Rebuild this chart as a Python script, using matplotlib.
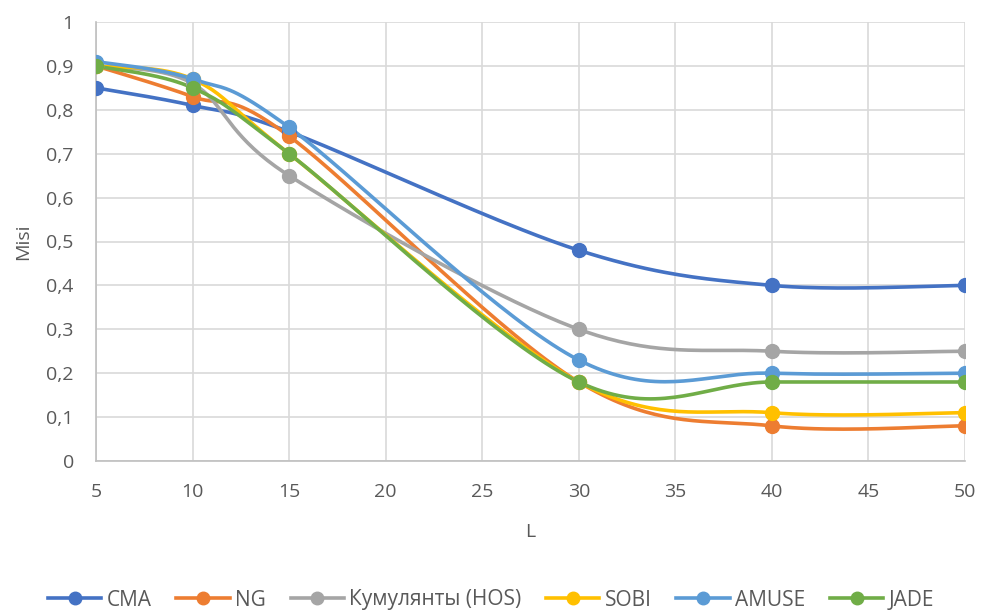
import numpy as np
import matplotlib
matplotlib.use("Agg")
import matplotlib.pyplot as plt
from matplotlib.ticker import FuncFormatter

L = [5, 10, 15, 30, 40, 50]
series_names = ["CMA", "NG", "Кумулянты (HOS)", "SOBI", "AMUSE", "JADE"]
cma = [0.85, 0.81, 0.75, 0.48, 0.40, 0.40]
ng = [0.90, 0.83, 0.74, 0.18, 0.08, 0.08]
hos = [0.90, 0.86, 0.65, 0.30, 0.25, 0.25]
sobi = [0.90, 0.87, 0.70, 0.18, 0.11, 0.11]
amuse = [0.91, 0.87, 0.76, 0.23, 0.20, 0.20]
jade = [0.90, 0.85, 0.70, 0.18, 0.18, 0.18]
colors = ["#4472C4", "#ED7D31", "#A5A5A5", "#FFC000", "#5B9BD5", "#70AD47"]

plt.rcParams['font.family'] = ['Open Sans', 'DejaVu Sans']


def smooth(x, y, n=40):
    x = np.asarray(x, float); y = np.asarray(y, float)
    P = np.column_stack([x, y])
    out = [P[0]]
    m = len(P)
    for i in range(m - 1):
        p0 = P[i - 1] if i > 0 else P[i]
        p1 = P[i]; p2 = P[i + 1]
        p3 = P[i + 2] if i + 2 < m else P[i + 1]
        c1 = p1 + (p2 - p0) / 6.0
        c2 = p2 - (p3 - p1) / 6.0
        t = np.linspace(0, 1, n)[1:, None]
        b = ((1 - t) ** 3) * p1 + 3 * ((1 - t) ** 2) * t * c1 + 3 * (1 - t) * t ** 2 * c2 + t ** 3 * p2
        out.extend(b)
    out = np.array(out)
    return out[:, 0], out[:, 1]


fig = plt.figure(figsize=(9.82, 6.12), dpi=100)
ax = fig.add_axes([96 / 982, (612 - 461) / 612, (965 - 96) / 982, (461 - 22) / 612])

for name, vals, c in zip(series_names, [cma, ng, hos, sobi, amuse, jade], colors):
    sx, sy = smooth(L, vals)
    ax.plot(sx, sy, color=c, lw=2.6, solid_capstyle='round', zorder=3)
    ax.plot(L, vals, 'o', color=c, ms=10, zorder=4)
    ax.plot([], [], '-o', color=c, lw=2.6, ms=9, label=name)

ax.set_xlim(5, 50)
ax.set_ylim(0, 1)
ax.set_xticks(np.arange(5, 51, 5))
ax.set_yticks(np.arange(0, 1.01, 0.1))
ax.yaxis.set_major_formatter(FuncFormatter(lambda v, p: ("%g" % round(v, 1)).replace('.', ',')))
ax.grid(True, color="#D9D9D9", lw=1.2, zorder=0)
ax.set_axisbelow(True)
for s in ['top', 'right']:
    ax.spines[s].set_visible(False)
ax.spines['left'].set_color("#BFBFBF")
ax.spines['bottom'].set_color("#BFBFBF")
ax.spines['left'].set_linewidth(1.2)
ax.spines['bottom'].set_linewidth(1.2)
ax.tick_params(axis='y', length=0, labelsize=14, colors="#595959", pad=16)
ax.tick_params(axis='x', length=0, labelsize=14, colors="#595959", pad=16)
ax.set_xlabel("L", fontsize=14, color="#595959", labelpad=16)
ax.set_ylabel("Misi", fontsize=14, color="#595959", labelpad=10)

fig.legend(loc='center', bbox_to_anchor=(0.5, (612 - 600) / 612), ncol=6,
           frameon=False, fontsize=15, labelcolor="#595959", handlelength=2.55,
           columnspacing=1.2, handletextpad=0.25)

fig.savefig("out.png", dpi=100)
